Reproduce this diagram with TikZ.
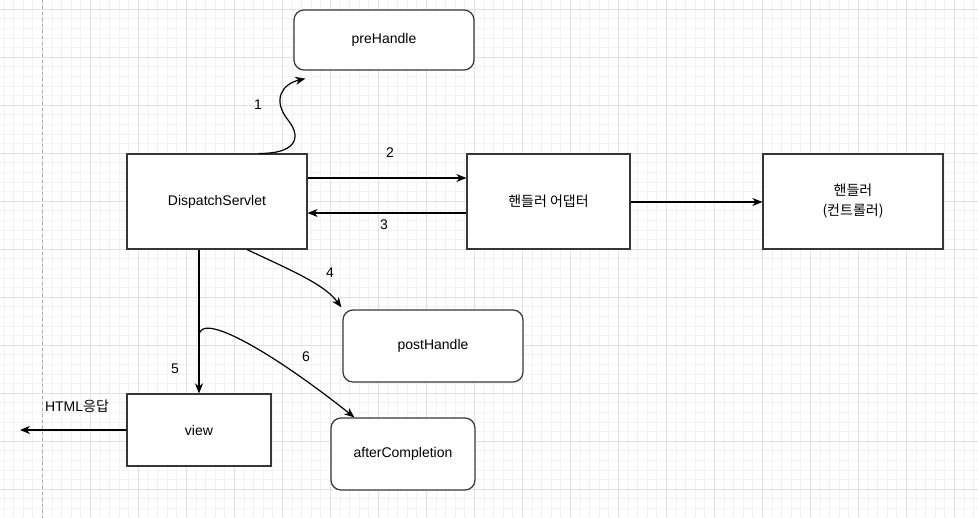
\documentclass[tikz,border=0pt]{standalone}
\usepackage{fontspec}
\setmainfont{Liberation Sans}
\newfontfamily\kr{Noto Sans CJK KR}
\usetikzlibrary{arrows.meta}
\definecolor{boxgray}{HTML}{363636}
\definecolor{minorgrid}{HTML}{F2F2F2}
\definecolor{majorgrid}{HTML}{E1E1E1}
\definecolor{pagebreak}{HTML}{AAAAAA}

\begin{document}
\begin{tikzpicture}[x=1pt, y=-1pt,
	every node/.style={font=\fontsize{14}{20}\selectfont},
	box/.style n args={2}{draw=boxgray, line width=1.2pt, fill=white, inner sep=0pt, minimum width=#1, minimum height=#2, align=center},
	rbox/.style n args={2}{box={#1}{#2}, rounded corners=10pt},
	num/.style={inner sep=0pt},
	>={Stealth[length=10pt, width=8pt, inset=3pt]},
	conn/.style={->, line width=1.2pt, black}
]
\useasboundingbox (0,0) rectangle (978,518);
\fill[white] (0,0) rectangle (978,518);
% grid
\foreach \k in {-4,...,97}
	\draw[minorgrid, line width=0.8pt] ({42.3+9.6*\k},0) -- ({42.3+9.6*\k},518);
\foreach \k in {0,...,53}
	\draw[minorgrid, line width=0.8pt] (0,{9.3+9.6*\k}) -- (978,{9.3+9.6*\k});
\foreach \k in {-1,...,19}
	\draw[majorgrid, line width=0.8pt] ({42.3+48*\k},0) -- ({42.3+48*\k},518);
\foreach \k in {0,...,10}
	\draw[majorgrid, line width=0.8pt] (0,{9.3+48*\k}) -- (978,{9.3+48*\k});
\draw[pagebreak, line width=0.8pt, dash pattern=on 3pt off 3pt] (42.3,0) -- (42.3,518);

\node[rbox={180}{60}] (pre) at (384,40) {preHandle};
\node[box={180}{95}] (ds) at (217,201.5) {DispatchServlet};
\node[box={163}{95}] (adapt) at (548.5,201.5) {\kr 핸들러 어댑터};
\node[box={180}{95}] (hdl) at (853,201.5) {\kr 핸들러\\{\kr (컨트롤러)}};
\node[rbox={180}{72}] (post) at (433,346) {postHandle};
\node[rbox={144}{72}] (after) at (403,454) {afterCompletion};
\node[box={144}{72}] (view) at (199,430) {view};

\coordinate (fork) at (199,336);
\coordinate (client) at (20,430);

\node[num] (n1) at (258,105) {1};
\node[num] (n2) at (390,153) {2};
\node[num] (n3) at (384,225) {3};
\node[num] (n4) at (330,273) {4};
\node[num] (n5) at (175,369) {5};
\node[num] (n6) at (306,357) {6};
\node[num] (resp) at (77,406) {HTML{\kr 응답}};

\draw[conn] ([xshift=42pt]ds.north) .. controls (292,154) and (304,140) .. (288,120)
	.. controls (272,100) and (282,84) .. ([shift={(12,8)}]pre.south west);
\path[conn]
(ds.east |- 0,178) edge (adapt.west |- 0,178)
(adapt.west |- 0,213) edge (ds.east |- 0,213)
(adapt.east |- 0,202) edge (hdl.west |- 0,202)
(ds.south -| view.north) edge (view.north)
(view.west) edge (client)
;
\draw[conn] ([xshift=30pt]ds.south) .. controls (295,272) and (325,285) .. ([shift={(-1,-2)}]post.north west);
\draw[conn] (fork) .. controls (199,310) and (272,352) .. ([shift={(24,0)}]after.north west);
\end{tikzpicture}
\end{document}
